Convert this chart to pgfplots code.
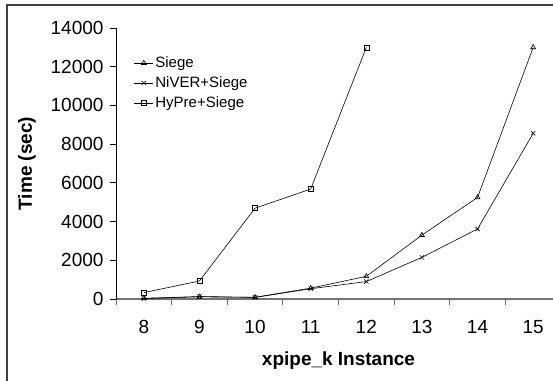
\documentclass[border=0pt]{standalone}
\usepackage{fontspec}
\setmainfont{Liberation Sans}
\usepackage{pgfplots}
\pgfplotsset{compat=1.18}
\begin{document}
\begin{tikzpicture}
\useasboundingbox (0,0) rectangle (553bp,381bp);
\draw[line width=1.4bp, black!75] (7bp,0) -- (7bp,376bp) -- (553bp,376bp);
\begin{axis}[
  at={(116bp,82bp)}, anchor=south west,
  scale only axis, width=445bp, height=271bp,
  xmin=7.5, xmax=15.5, ymin=0, ymax=14000,
  axis x line*=bottom, axis y line*=left,
  axis line style={-},
  x axis line style={black!55, line width=1.2bp},
  y axis line style={black, line width=0.8bp},
  xtick={7.5,8.5,...,15.5},
  x tick label as interval,
  xticklabels={8,9,10,11,12,13,14,15},
  ytick={0,2000,...,14000},
  tick align=outside,
  major tick length=6bp,
  x tick style={black!60, line width=0.8bp},
  y tick style={black, line width=0.8bp},
  scaled ticks=false,
  /pgf/number format/1000 sep={},
  /pgf/number format/assume math mode=true,
  tick label style={font=\fontsize{19bp}{21bp}\selectfont},
  xticklabel style={yshift=-12bp},
  yticklabel style={xshift=-3bp},
  xlabel={\textbf{xpipe\_k Instance}},
  ylabel={\textbf{Time (sec)}},
  label style={font=\fontsize{19bp}{21bp}\selectfont},
  xlabel style={yshift=-11bp},
  ylabel style={yshift=8bp},
  clip=false,
  legend style={draw=none, fill=none, at={(0.038,0.905)}, anchor=north west,
    font=\fontsize{15bp}{17bp}\selectfont, row sep=3.5bp, inner sep=1bp},
  legend cell align=left,
  legend image post style={xscale=1.1},
]
\addplot[black, line width=0.6bp, mark=triangle, mark size=2.8bp, mark options={solid, fill=white}] coordinates {
(8,40) (9,110) (10,90) (11,560) (12,1170) (13,3300) (14,5250) (15,13000)};
\addlegendentry{Siege}
\addplot[black, line width=0.6bp, mark=x, mark size=3bp, mark options={solid}] coordinates {
(8,20) (9,130) (10,80) (11,530) (12,900) (13,2150) (14,3620) (15,8560)};
\addlegendentry{NiVER+Siege}
\addplot[black, line width=0.6bp, mark=square, mark size=2.5bp, mark options={solid, fill=white}] coordinates {
(8,330) (9,930) (10,4690) (11,5680) (12,13000)};
\addlegendentry{HyPre+Siege}
\end{axis}
\end{tikzpicture}
\end{document}
